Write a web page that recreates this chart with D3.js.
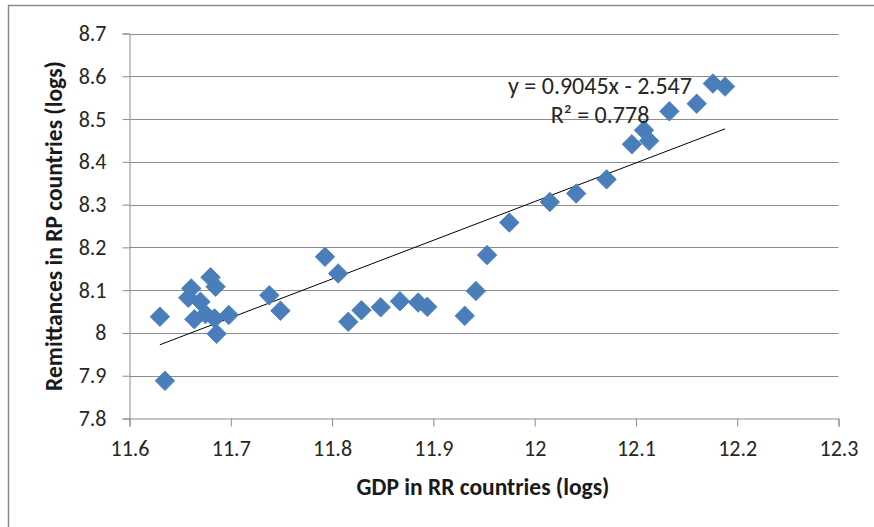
<!DOCTYPE html>
<html>
<head>
<meta charset="utf-8">
<script src="https://cdn.jsdelivr.net/npm/d3@7"></script>
<style>
  html, body { margin: 0; padding: 0; background: #fff; }
  svg { display: block; font-family: Carlito, Calibri, Lato, sans-serif; }
</style>
</head>
<body>
<svg id="chart" width="874" height="527"></svg>
<script>
// values
const gdpLogs = [
  11.630, 11.635, 11.658, 11.661, 11.670, 11.664, 11.675, 11.680, 11.685,
  11.684, 11.686, 11.698, 11.738, 11.749, 11.793, 11.806, 11.816, 11.829,
  11.848, 11.867, 11.885, 11.894, 11.931, 11.942, 11.953, 11.975, 12.015,
  12.041, 12.071, 12.096, 12.108, 12.113, 12.133, 12.160, 12.176, 12.188
];
const remitLogs = [
  8.038, 7.888, 8.082, 8.104, 8.073, 8.032, 8.044, 8.130, 8.108,
  8.034, 7.998, 8.042, 8.088, 8.052, 8.178, 8.139, 8.026, 8.053,
  8.060, 8.074, 8.071, 8.061, 8.040, 8.098, 8.182, 8.258, 8.306,
  8.326, 8.359, 8.441, 8.474, 8.449, 8.518, 8.536, 8.583, 8.576
];
const xTicks = [11.6, 11.7, 11.8, 11.9, 12, 12.1, 12.2, 12.3];
const yTicks = [7.8, 7.9, 8, 8.1, 8.2, 8.3, 8.4, 8.5, 8.6, 8.7];
const slope = 0.9045;
const intercept = -2.547;
const equationLines = ["y = 0.9045x - 2.547", "R² = 0.778"];

const svg = d3.select("#chart");
const gridColor = "#8c8c8c";
const textColor = "#262626";

const x = d3.scaleLinear().domain([11.6, 12.3]).range([129.5, 838.5]);
const y = d3.scaleLinear().domain([7.8, 8.7]).range([418.5, 33.5]);

// outer chart border (only left/top are inside the picture)
svg.append("rect")
  .attr("x", 8.5).attr("y", 5.5)
  .attr("width", 900).attr("height", 600)
  .attr("fill", "none")
  .attr("stroke", "#8a8a8a")
  .attr("stroke-width", 1.5);

// horizontal gridlines
svg.append("g")
  .selectAll("line")
  .data(yTicks.slice(1))
  .join("line")
  .attr("x1", x(11.6)).attr("x2", x(12.3))
  .attr("y1", d => Math.round(y(d)) + 0.5)
  .attr("y2", d => Math.round(y(d)) + 0.5)
  .attr("stroke", gridColor)
  .attr("stroke-width", 1);

// y axis
const yAxis = svg.append("g")
  .attr("transform", `translate(${x(11.6)},0)`)
  .call(d3.axisLeft(y).tickValues(yTicks).tickSize(7).tickPadding(16)
    .tickFormat(d3.format("")));
yAxis.selectAll("path, line").attr("stroke", gridColor);
yAxis.selectAll("text")
  .attr("font-size", 22).attr("fill", textColor)
  .attr("font-family", "Carlito, Calibri, Lato, sans-serif");

// x axis
const xAxis = svg.append("g")
  .attr("transform", `translate(0,${y(7.8)})`)
  .call(d3.axisBottom(x).tickValues(xTicks).tickSize(8).tickPadding(14)
    .tickFormat(d3.format("")));
xAxis.selectAll("path, line").attr("stroke", gridColor);
xAxis.selectAll("text")
  .attr("font-size", 22).attr("fill", textColor)
  .attr("font-family", "Carlito, Calibri, Lato, sans-serif");

// linear trendline over the data range
const xMin = d3.min(gdpLogs), xMax = d3.max(gdpLogs);
svg.append("line")
  .attr("x1", x(xMin)).attr("y1", y(slope * xMin + intercept))
  .attr("x2", x(xMax)).attr("y2", y(slope * xMax + intercept))
  .attr("stroke", "#000")
  .attr("stroke-width", 1);

// diamond markers
const diamond = d3.symbol().type(d3.symbolSquare).size(190);
svg.append("g")
  .selectAll("path")
  .data(gdpLogs.map((g, i) => [g, remitLogs[i]]))
  .join("path")
  .attr("d", diamond)
  .attr("transform", d => `translate(${x(d[0])},${y(d[1])}) rotate(45)`)
  .attr("fill", "#4a7ebb")
  .attr("stroke", "#4a7ebb")
  .attr("stroke-width", 0.8);

// trendline equation
svg.append("g")
  .selectAll("text")
  .data(equationLines)
  .join("text")
  .attr("x", 600)
  .attr("y", (d, i) => 94 + i * 28.7)
  .attr("text-anchor", "middle")
  .attr("font-size", 24)
  .attr("fill", textColor)
  .text(d => d);

// axis titles
svg.append("text")
  .attr("x", 483).attr("y", 495)
  .attr("text-anchor", "middle")
  .attr("font-size", 23.5)
  .attr("font-weight", "bold")
  .attr("fill", "#1a1a1a")
  .text("GDP in RR countries (logs)");

svg.append("text")
  .attr("transform", "translate(62,226) rotate(-90)")
  .attr("text-anchor", "middle")
  .attr("font-size", 23.5)
  .attr("font-weight", "bold")
  .attr("fill", "#1a1a1a")
  .text("Remittances in RP countries (logs)");
</script>
</body>
</html>
